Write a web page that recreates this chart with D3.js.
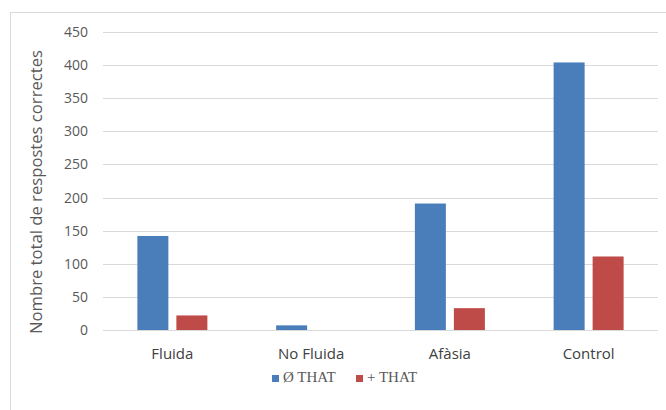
<!DOCTYPE html>
<html>
<head>
<meta charset="utf-8">
<script src="https://cdn.jsdelivr.net/npm/d3@7"></script>
<style>
  body { margin: 0; background: #fff; }
  svg { display: block; }
</style>
</head>
<body>
<div id="chart"></div>
<script>
// categories and series values
var categories = ["Fluida", "No Fluida", "Afàsia", "Control"];
var seriesNames = ["Ø THAT", "+ THAT"];
var sensThat = [142, 7, 191, 404];
var ambThat = [22, 0, 33, 111];
var yTicks = [0, 50, 100, 150, 200, 250, 300, 350, 400, 450];

var colors = ["#4a7ebb", "#be4b48"];

var W = 666, H = 410;
var margin = { top: 32, right: 8, bottom: 80, left: 103 };
var width = W - margin.left - margin.right;
var height = H - margin.top - margin.bottom;

var svg = d3.select("#chart").append("svg")
    .attr("width", W)
    .attr("height", H);

// chart area border (runs past the crop on the right and bottom)
svg.append("rect")
    .attr("x", 10.5).attr("y", 12.5)
    .attr("width", 700).attr("height", 450)
    .attr("fill", "none")
    .attr("stroke", "#d9d9d9");

var g = svg.append("g")
    .attr("transform", "translate(" + margin.left + "," + margin.top + ")");

var x = d3.scaleBand().domain(categories).range([0, width]);
var y = d3.scaleLinear().domain([0, 450]).range([height, 0]);

// bar widths like Excel: gap width ~219%, overlap -27%
var barW = 31, barGap = 8;
var xSub = d3.scaleBand().domain([0, 1])
    .range([x.bandwidth() / 2 - barW - barGap / 2, x.bandwidth() / 2 + barW + barGap / 2])
    .paddingInner(barGap / (barW + barGap));

// gridlines
g.selectAll(".grid").data(yTicks).enter().append("line")
    .attr("class", "grid")
    .attr("x1", 0).attr("x2", width)
    .attr("y1", function (d) { return Math.round(y(d)) + 0.5; })
    .attr("y2", function (d) { return Math.round(y(d)) + 0.5; })
    .attr("stroke", "#d9d9d9")
    .attr("stroke-width", 1);

// y axis labels
var yAxis = d3.axisLeft(y).tickValues(yTicks).tickSize(0).tickPadding(15);
g.append("g").attr("class", "y axis")
    .call(yAxis)
    .call(function (s) { s.select(".domain").remove(); })
    .selectAll("text")
    .style("font-family", "'Open Sans', sans-serif")
    .style("font-size", "14px")
    .style("fill", "#595959");

// x axis labels
var xAxis = d3.axisBottom(x).tickSize(0).tickPadding(18);
g.append("g").attr("class", "x axis")
    .attr("transform", "translate(0," + height + ")")
    .call(xAxis)
    .call(function (s) { s.select(".domain").remove(); })
    .selectAll("text")
    .style("font-family", "'Open Sans', sans-serif")
    .style("font-size", "15px")
    .style("fill", "#404040");

// bars
var series = [sensThat, ambThat];
series.forEach(function (vals, si) {
    g.selectAll(".bar" + si).data(vals).enter().append("rect")
        .attr("class", "bar" + si)
        .attr("x", function (d, i) { return x(categories[i]) + xSub(si); })
        .attr("width", xSub.bandwidth())
        .attr("y", function (d) { return y(d); })
        .attr("height", function (d) { return height - y(d); })
        .attr("fill", colors[si]);
});

// y axis title
svg.append("text")
    .attr("transform", "translate(42,192) rotate(-90)")
    .attr("text-anchor", "middle")
    .attr("textLength", 284)
    .attr("lengthAdjust", "spacingAndGlyphs")
    .style("font-family", "'Open Sans', sans-serif")
    .style("font-size", "15.5px")
    .style("fill", "#595959")
    .text("Nombre total de respostes correctes");

// legend
var legend = svg.append("g").attr("transform", "translate(272,379)");
var legX = [0, 84];
seriesNames.forEach(function (name, i) {
    legend.append("rect")
        .attr("x", legX[i]).attr("y", -4)
        .attr("width", 7).attr("height", 7)
        .attr("fill", colors[i]);
    legend.append("text")
        .attr("x", legX[i] + 11).attr("y", 0)
        .attr("dominant-baseline", "middle")
        .style("font-family", "'Liberation Serif', 'DejaVu Serif', serif")
        .style("font-size", "15px")
        .style("fill", "#595959")
        .text(name);
});
</script>
</body>
</html>
